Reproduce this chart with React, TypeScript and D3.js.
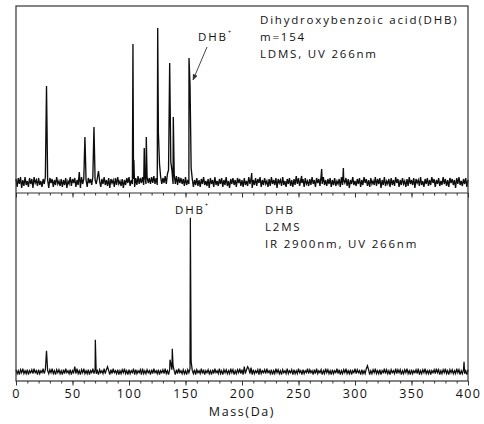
import React, { useEffect, useRef } from "react";
import * as d3 from "d3";

// x axis
const massTicks = [0, 50, 100, 150, 200, 250, 300, 350, 400];

// top spectrum: LDMS, UV 266nm (baseline noise sampled every 1 Da, 0..400)
const topNoise = [
  3, -5, 4, -2, 5, -6, 2, -4, 5, -3, 1, -5, 4, -2, 3, -6, 5, -1, 2, -4,
  4, -3, 1, -5, 3, -2, 5, -4, 2, -6, 4, -1, 3, -5, 2, -3, 5, -2, 1, -4,
  3, -5, 2, -3, 4, -6, 1, -2, 5, -4, 3, -1, 4, -5, 2, -3, 1, -6, 5, -2,
  3, -4, 2, -5, 4, -1, 3, -3, 5, -6, 2, -2, 4, -4, 1, -5, 3, -2, 5, -3,
  2, -4, 4, -6, 3, -1, 2, -5, 4, -3, 5, -2, 1, -4, 3, -6, 2, -3, 4, -1,
  5, -4, 2, -2, 3, -5, 4, -3, 6, -2, 4, -1, 5, -3, 6, -2, 5, -1, 4, -2,
  5, -1, 6, -2, 4, -3, 7, -1, 5, -2, 4, -1, 6, -2, 8, -1, 6, -1, 5, -2,
  4, -2, 6, -3, 5, -1, 4, -2, 3, -4, 5, -3, 2, -2, 4, -4, 3, -5, 2, -3,
  4, -4, 2, -5, 3, -2, 5, -3, 1, -4, 3, -6, 4, -2, 2, -5, 5, -3, 1, -4,
  3, -2, 4, -5, 2, -3, 5, -4, 1, -6, 3, -2, 4, -3, 2, -5, 4, -1, 3, -4,
  2, -5, 4, -3, 1, -4, 5, -2, 3, -6, 2, -3, 4, -4, 3, -1, 5, -5, 2, -3,
  4, -2, 1, -5, 3, -4, 5, -2, 2, -3, 4, -6, 3, -1, 2, -4, 5, -3, 1, -5,
  3, -2, 4, -4, 2, -5, 3, -3, 6, -2, 4, -4, 2, -1, 3, -5, 4, -2, 1, -4,
  3, -3, 5, -2, 2, -5, 4, -1, 3, -4, 6, -2, 5, -3, 2, -4, 3, -2, 4, -5,
  2, -3, 4, -4, 1, -2, 3, -5, 5, -3, 2, -1, 4, -4, 3, -6, 2, -2, 5, -3,
  1, -4, 3, -2, 4, -5, 2, -3, 5, -1, 3, -4, 2, -5, 4, -2, 1, -3, 5, -4,
  3, -2, 4, -6, 2, -3, 5, -4, 1, -2, 3, -5, 4, -3, 2, -4, 5, -1, 3, -5,
  2, -3, 4, -2, 1, -5, 3, -4, 5, -2, 2, -3, 4, -6, 3, -1, 2, -4, 5, -3,
  1, -5, 3, -2, 4, -4, 2, -3, 5, -1, 3, -5, 2, -2, 4, -4, 1, -3, 5, -2,
  3, -4, 2, -5, 4, -1, 3, -3, 2, -6, 4, -2, 5, -3, 1, -4, 3, -2, 4, -5,
  2,
];
const topPeakMass = [
  27, 56, 61, 69, 73, 103.5, 104.3, 113.5, 115.3, 125.4, 126, 127, 135, 136,
  137, 138, 139.2, 140, 153.1, 154, 155, 208.6, 252.8, 270.5, 289.7,
];
const topPeakHeight = [
  96, 10, 45, 55, 11, 138, 22, 34, 45, 154, 49, 18, 12, 119, 20, 12, 65, 8,
  124, 97, 14, 9, 6, 13, 14,
];

// bottom spectrum: L2MS, IR 2900nm + UV 266nm
const botNoise = [
  2, -2, 1, -3, 2, -1, 3, -2, 1, -2, 2, -3, 1, -1, 2, -2, 3, -1, 1, -3,
  2, -2, 1, -1, 3, -2, 2, -3, 1, -2, 2, -1, 3, -2, 1, -3, 2, -1, 2, -2,
  1, -3, 2, -2, 3, -1, 1, -2, 2, -3, 1, -1, 2, -2, 3, -2, 1, -3, 2, -1,
  3, -2, 1, -2, 2, -3, 1, -1, 3, -2, 2, -2, 1, -3, 2, -1, 1, -2, 3, -2,
  2, -1, 1, -3, 2, -2, 3, -1, 1, -2, 2, -3, 1, -2, 2, -1, 3, -2, 1, -3,
  2, -2, 1, -1, 3, -3, 2, -2, 1, -1, 2, -3, 3, -2, 1, -2, 2, -1, 1, -3,
  2, -2, 3, -1, 1, -2, 2, -3, 1, -1, 2, -2, 3, -2, 1, -3, 2, -1, 2, -2,
  1, -3, 2, -2, 3, -1, 1, -2, 2, -2, 1, -3, 2, -1, 3, -2, 1, -2, 2, -3,
  2, -1, 1, -2, 3, -2, 2, -3, 1, -1, 2, -2, 1, -3, 2, -2, 3, -1, 1, -2,
  3, -2, 1, -3, 2, -1, 2, -2, 1, -2, 3, -1, 2, -3, 1, -2, 2, -1, 3, -2,
  2, -3, 1, -2, 2, -1, 3, -2, 1, -3, 2, -2, 1, -1, 2, -3, 3, -2, 1, -1,
  2, -2, 3, -1, 1, -2, 2, -3, 1, -2, 3, -1, 2, -2, 1, -3, 2, -1, 1, -2,
  3, -2, 1, -1, 2, -3, 2, -2, 1, -2, 3, -1, 1, -3, 2, -2, 1, -1, 3, -2,
  2, -1, 1, -3, 2, -2, 3, -2, 1, -1, 2, -3, 1, -2, 3, -1, 2, -2, 1, -3,
  2, -2, 1, -1, 3, -2, 2, -3, 1, -2, 2, -1, 3, -2, 1, -2, 2, -3, 1, -1,
  3, -2, 2, -1, 1, -3, 2, -2, 1, -2, 3, -1, 2, -3, 1, -2, 2, -1, 3, -2,
  1, -2, 2, -3, 1, -1, 3, -2, 2, -2, 1, -3, 2, -1, 1, -2, 3, -2, 2, -1,
  2, -3, 1, -2, 2, -1, 3, -2, 1, -3, 2, -2, 1, -1, 2, -2, 3, -3, 1, -2,
  2, -1, 3, -2, 1, -2, 2, -3, 1, -1, 2, -2, 3, -1, 2, -3, 1, -2, 2, -1,
  3, -2, 1, -3, 2, -1, 2, -2, 1, -2, 3, -1, 2, -3, 1, -2, 2, -2, 1, -3,
  2,
];
const botPeakMass = [
  27, 52, 70.2, 81, 136.3, 137, 138.3, 139, 154.3, 155, 202, 205, 208, 311,
  396.5,
];
const botPeakHeight = [21, 5, 32, 5, 12, 8, 23, 6, 154, 10, 5, 5, 4, 6, 10];

type Pt = { mass: number; value: number };

function buildSpectrum(noise: number[], peakMass: number[], peakHeight: number[]): Pt[] {
  const byMass = new Map<number, number>();
  noise.forEach((v, i) => byMass.set(i, v));
  peakMass.forEach((m, i) => byMass.set(m, peakHeight[i]));
  return Array.from(byMass, ([mass, value]) => ({ mass, value })).sort(
    (a, b) => a.mass - b.mass
  );
}

const FONT = "'Open Sans', 'DejaVu Sans', sans-serif";

export default function App() {
  const ref = useRef<SVGSVGElement>(null);

  useEffect(() => {
    const svg = d3.select(ref.current);
    svg.selectAll("*").remove();

    const width = 484;
    const height = 424;
    const left = 16;
    const right = 468;
    const top = 6;
    const mid = 193;
    const bottom = 381;

    const x = d3.scaleLinear().domain([0, 400]).range([left, right]);
    const yTop = d3.scaleLinear().domain([-11, 176]).range([mid, top]);
    const yBot = d3.scaleLinear().domain([-9.3, 178.7]).range([bottom, mid]);

    svg.attr("width", width).attr("height", height);
    svg.append("rect").attr("width", width).attr("height", height).attr("fill", "#fff");

    const defs = svg.append("defs");
    defs
      .append("marker")
      .attr("id", "arrow")
      .attr("viewBox", "0 0 10 10")
      .attr("refX", 9)
      .attr("refY", 5)
      .attr("markerWidth", 7)
      .attr("markerHeight", 7)
      .attr("orient", "auto")
      .append("path")
      .attr("d", "M0,1 L10,5 L0,9 Z")
      .attr("fill", "#333");

    // spectra
    const drawSpectrum = (data: Pt[], y: d3.ScaleLinear<number, number>, w: number) => {
      const line = d3
        .line<Pt>()
        .x((d) => x(d.mass))
        .y((d) => y(d.value));
      svg
        .append("path")
        .datum(data)
        .attr("d", line)
        .attr("fill", "none")
        .attr("stroke", "#0d0d0d")
        .attr("stroke-width", w)
        .attr("stroke-linejoin", "miter");
    };
    drawSpectrum(buildSpectrum(topNoise, topPeakMass, topPeakHeight), yTop, 1.35);
    drawSpectrum(buildSpectrum(botNoise, botPeakMass, botPeakHeight), yBot, 1.25);

    // ticks: top panel axis (no labels) and bottom panel axis
    const addTicks = (yPos: number, withLabels: boolean) => {
      const minor = svg
        .append("g")
        .attr("transform", `translate(0,${yPos})`)
        .call(
          d3.axisBottom(x).ticks(40).tickSize(2.5).tickSizeOuter(0).tickFormat(() => "")
        );
      minor.select(".domain").remove();
      minor.selectAll("line").attr("stroke", "#333");

      const major = svg
        .append("g")
        .attr("transform", `translate(0,${yPos})`)
        .call(
          d3
            .axisBottom(x)
            .tickValues(massTicks)
            .tickSize(4.5)
            .tickSizeOuter(0)
            .tickPadding(4)
            .tickFormat((d) => (withLabels ? d3.format("d")(d as number) : ""))
        );
      major.select(".domain").remove();
      major.selectAll("line").attr("stroke", "#333");
      major
        .selectAll("text")
        .attr("font-family", FONT)
        .attr("font-size", 12.5)
        .attr("letter-spacing", 1.3)
        .attr("fill", "#111");
    };
    addTicks(mid, false);
    addTicks(bottom, true);

    // frame
    svg
      .append("rect")
      .attr("x", left)
      .attr("y", top)
      .attr("width", right - left)
      .attr("height", bottom - top)
      .attr("fill", "none")
      .attr("stroke", "#333")
      .attr("stroke-width", 1.2);
    svg
      .append("line")
      .attr("x1", left)
      .attr("x2", right)
      .attr("y1", mid)
      .attr("y2", mid)
      .attr("stroke", "#333")
      .attr("stroke-width", 1.2);

    // axis title
    svg
      .append("text")
      .attr("x", (left + right) / 2)
      .attr("y", 416)
      .attr("text-anchor", "middle")
      .attr("font-family", FONT)
      .attr("font-size", 12.5)
      .attr("letter-spacing", 1.6)
      .attr("fill", "#111")
      .text("Mass(Da)");

    // annotations
    const addLines = (x0: number, y0: number, lines: string[]) => {
      lines.forEach((t, i) => {
        svg
          .append("text")
          .attr("x", x0)
          .attr("y", y0 + i * 17)
          .attr("font-family", FONT)
          .attr("font-size", 11.5)
          .attr("letter-spacing", 1.8)
          .attr("fill", "#111")
          .text(t);
      });
    };
    addLines(260, 24, ["Dihydroxybenzoic acid(DHB)", "m=154", "LDMS, UV 266nm"]);
    addLines(265, 214, ["DHB", "L2MS", "IR 2900nm, UV 266nm"]);

    const addIon = (x0: number, y0: number) => {
      const t = svg
        .append("text")
        .attr("x", x0)
        .attr("y", y0)
        .attr("font-family", FONT)
        .attr("font-size", 11.5)
        .attr("letter-spacing", 1.8)
        .attr("fill", "#111");
      t.append("tspan").text("DHB");
      t.append("tspan").attr("dy", -7).attr("font-size", 6).text("+");
    };
    addIon(198, 41);
    addIon(175, 214);

    // arrow to DHB+ peak in the top spectrum
    svg
      .append("line")
      .attr("x1", 207)
      .attr("y1", 47)
      .attr("x2", x(154) + 3)
      .attr("y2", 80)
      .attr("stroke", "#333")
      .attr("stroke-width", 0.9)
      .attr("marker-end", "url(#arrow)");
  }, []);

  return <svg ref={ref} style={{ position: "absolute", left: 0, top: 0 }} />;
}
